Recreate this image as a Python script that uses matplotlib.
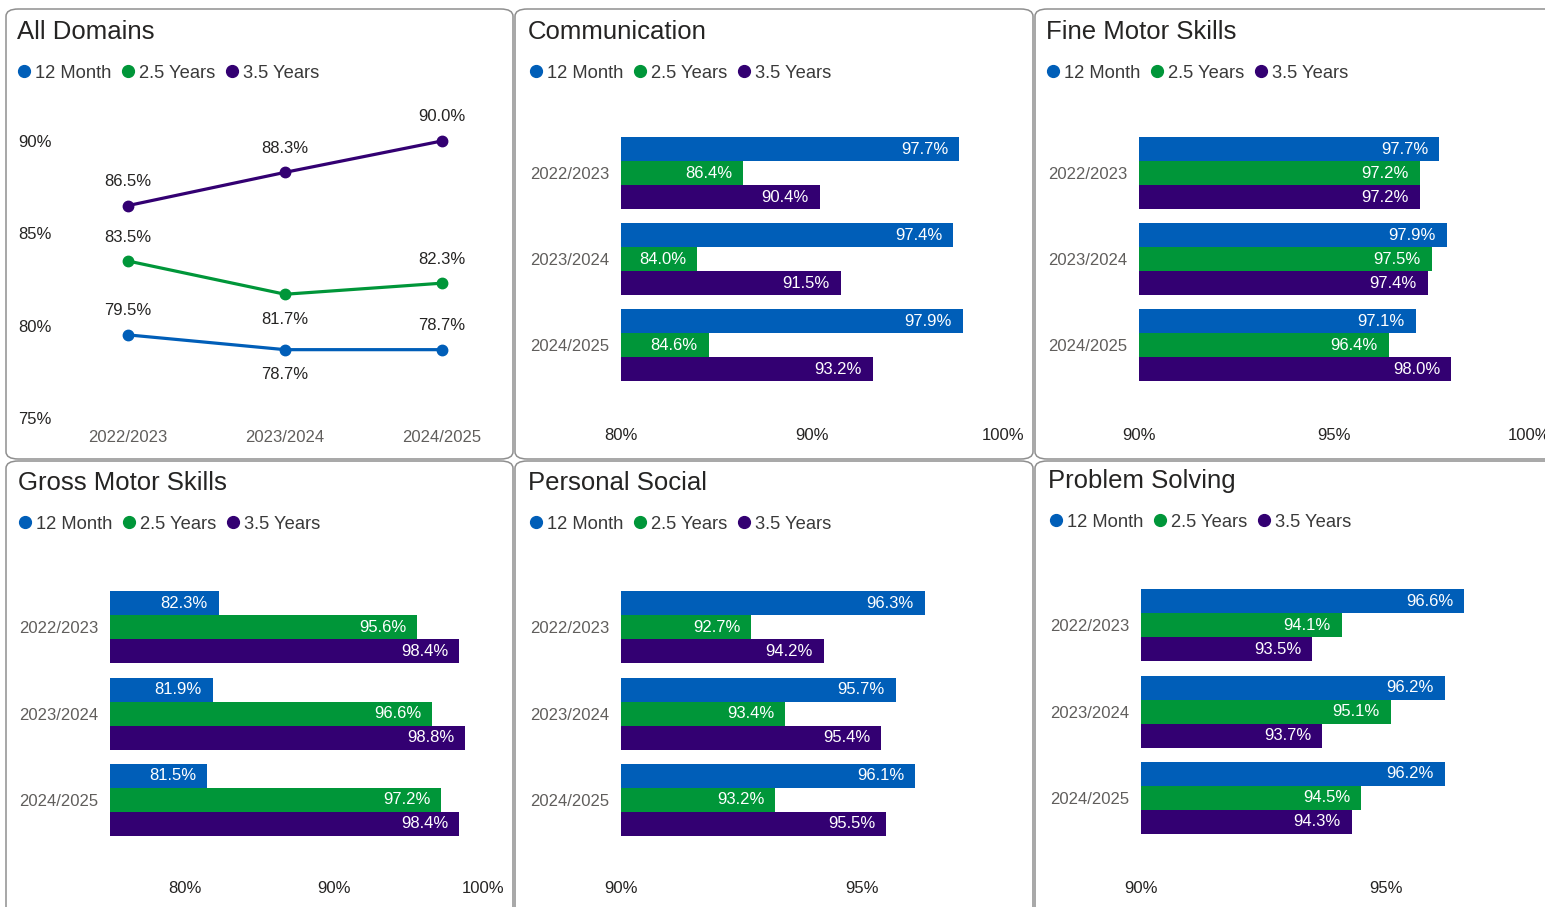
"""
Developmental review dashboard: six small panels (one line chart, five bar charts).
"""

import matplotlib
matplotlib.use('Agg')
import matplotlib.pyplot as plt
from matplotlib.patches import FancyBboxPatch
from matplotlib.lines import Line2D

plt.rcParams['font.family'] = ['Liberation Sans', 'DejaVu Sans']

W, H = 1545, 907

years = ["2022/2023", "2023/2024", "2024/2025"]
series = ["12 Month", "2.5 Years", "3.5 Years"]
colors = ["#005EB8", "#009639", "#330072"]

all_12m = [79.5, 78.7, 78.7]
all_25y = [83.5, 81.7, 82.3]
all_35y = [86.5, 88.3, 90.0]

comm_12m = [97.7, 97.4, 97.9]
comm_25y = [86.4, 84.0, 84.6]
comm_35y = [90.4, 91.5, 93.2]

fine_12m = [97.7, 97.9, 97.1]
fine_25y = [97.2, 97.5, 96.4]
fine_35y = [97.2, 97.4, 98.0]

gross_12m = [82.3, 81.9, 81.5]
gross_25y = [95.6, 96.6, 97.2]
gross_35y = [98.4, 98.8, 98.4]

pers_12m = [96.3, 95.7, 96.1]
pers_25y = [92.7, 93.4, 93.2]
pers_35y = [94.2, 95.4, 95.5]

prob_12m = [96.6, 96.2, 96.2]
prob_25y = [94.1, 95.1, 94.5]
prob_35y = [93.5, 93.7, 94.3]

TITLE_C = '#252423'
LABEL_C = '#252423'
TICK_C = '#605E5C'
LEGEND_C = '#3a3a3a'

fig = plt.figure(figsize=(W / 100, H / 100), dpi=100)
fig.patch.set_facecolor('white')


def fx(x):
    return x / W


def fy(y):
    return 1 - y / H


def px_axes(x0, y0, x1, y1):
    return fig.add_axes([fx(x0), fy(y1), (x1 - x0) / W, (y1 - y0) / H])


def panel(x0, y0, x1, y1, title, tx, ty, lx, ly):
    box = FancyBboxPatch((fx(x0), fy(y1)), (x1 - x0) / W, (y1 - y0) / H,
                         boxstyle='round,pad=0,rounding_size=0.008',
                         transform=fig.transFigure, facecolor='none',
                         edgecolor='#8f8f8f', linewidth=1.1, zorder=0)
    fig.add_artist(box)
    fig.text(fx(tx), fy(ty), title, fontsize=18.5, color=TITLE_C, va='baseline')
    offsets = [0, 104, 208]
    for name, c, off in zip(series, colors, offsets):
        fig.add_artist(Line2D([fx(lx + off)], [fy(ly)], marker='o', markersize=8.5,
                              color=c, transform=fig.transFigure))
        fig.text(fx(lx + off + 11), fy(ly + 7), name, fontsize=13.2,
                 color=LEGEND_C, va='baseline')


def clean(ax):
    for s in ax.spines.values():
        s.set_visible(False)
    ax.tick_params(length=0)


def bar_panel(x0, x1, c0, c2, lo, hi, ticks, vals, label_y):
    unit = (c2 - c0) / 2
    top, bot = c0 - 60, c2 + 70
    ax = px_axes(x0, top, x1, bot)
    clean(ax)
    h = 24 / unit
    offs = [-h, 0, h]
    for v, c, o in zip(vals, colors, offs):
        pos = [i + o for i in range(len(years))]
        bars = ax.barh(pos, [x - lo for x in v], left=lo, height=h, color=c)
        for b, x in zip(bars, v):
            ax.annotate(f"{x:.1f}%", (x, b.get_y() + h / 2), xytext=(-11, 0),
                        textcoords='offset pixels', ha='right', va='center',
                        color='white', fontsize=12)
    ax.set_xlim(lo, hi)
    ax.set_ylim(2 + 70 / unit, -60 / unit)
    ax.set_xticks(ticks)
    ax.set_xticklabels([f"{t}%" for t in ticks], fontsize=12, color=LABEL_C)
    ax.set_yticks(range(len(years)))
    ax.set_yticklabels(years, fontsize=12, color=TICK_C)
    ax.tick_params(axis='x', pad=8 + (label_y - bot - 17) * 0.72)
    ax.tick_params(axis='y', pad=8.5)
    return ax


# panel frames, titles and legends
panel(6, 9, 513, 459, "All Domains", 17, 39, 24, 71)
panel(515, 9, 1033, 459, "Communication", 528, 39, 536, 71)
panel(1035, 9, 1570, 459, "Fine Motor Skills", 1046, 39, 1053, 71)
panel(6, 461, 513, 920, "Gross Motor Skills", 18, 490, 25, 522)
panel(515, 461, 1033, 920, "Personal Social", 528, 490, 536, 522)
panel(1035, 461, 1570, 920, "Problem Solving", 1048, 488, 1056, 520)

# line chart: all domains
ax = px_axes(60, 110, 500, 418)
clean(ax)
xs = list(range(len(years)))
below = {(0, 1), (1, 1)}
for k, (v, c) in enumerate(zip([all_12m, all_25y, all_35y], colors)):
    ax.plot(xs, v, color=c, lw=2.3, marker='o', markersize=7.5)
    for i, y in enumerate(v):
        off = -25 if (k, i) in below else 24
        ax.annotate(f"{y:.1f}%", (i, y), xytext=(0, off), textcoords='offset pixels',
                    ha='center', va='center', fontsize=12, color=LABEL_C)
ax.set_xlim((60 - 128) / 157, 2 + (500 - 442) / 157)
ax.set_ylim(75, 75 + (418 - 110) / 18.47)
ax.set_xticks(xs)
ax.set_xticklabels(years, fontsize=12, color=TICK_C)
ax.set_yticks([75, 80, 85, 90])
ax.set_yticklabels(["75%", "80%", "85%", "90%"], fontsize=12, color=LABEL_C)
ax.tick_params(axis='x', pad=9)
ax.tick_params(axis='y', pad=6)

# bar charts
bar_panel(621, 1003, 173, 345, 80, 100, [80, 90, 100], [comm_12m, comm_25y, comm_35y], 434)
bar_panel(1139, 1529, 173, 345, 90, 100, [90, 95, 100], [fine_12m, fine_25y, fine_35y], 434)
bar_panel(110, 483, 627, 800, 75, 100, [80, 90, 100], [gross_12m, gross_25y, gross_35y], 887)
bar_panel(621, 1031, 627, 800, 90, 98.5, [90, 95], [pers_12m, pers_25y, pers_35y], 887)
bar_panel(1141, 1545, 625, 798, 90, 98.25, [90, 95], [prob_12m, prob_25y, prob_35y], 887)

plt.savefig('out.png', dpi=100, facecolor='white')
